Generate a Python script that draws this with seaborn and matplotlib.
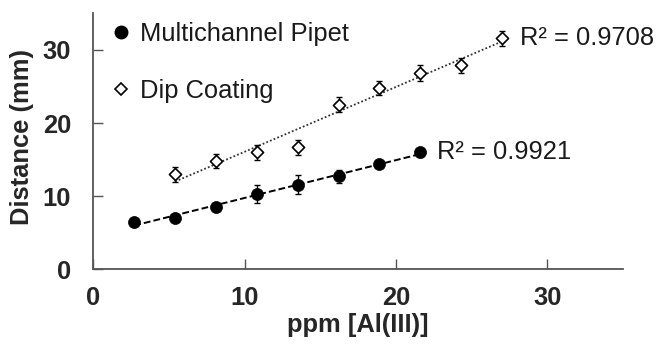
import numpy as np
import pandas as pd
import matplotlib
matplotlib.use("Agg")
import matplotlib.pyplot as plt
from matplotlib.lines import Line2D
import seaborn as sns

# Calibration data: Al(III) concentration vs. travel distance
ppm_pipet = [2.7, 5.4, 8.1, 10.8, 13.5, 16.2, 18.9, 21.6]
dist_pipet = [6.5, 7.0, 8.55, 10.3, 11.6, 12.7, 14.4, 16.0]
err_pipet = [0.3, 0.5, 0.5, 1.2, 1.25, 0.9, 0.5, 0.6]

ppm_dip = [5.4, 8.1, 10.8, 13.5, 16.2, 18.9, 21.6, 24.3, 27.0]
dist_dip = [13.0, 14.8, 16.0, 16.7, 22.5, 24.8, 26.9, 27.9, 31.6]
err_dip = [1.0, 1.0, 1.0, 1.0, 1.0, 1.0, 1.1, 1.0, 1.05]

series_names = ["Multichannel Pipet", "Dip Coating"]
r2_labels = ["R\u00b2 = 0.9921", "R\u00b2 = 0.9708"]

x_ticks = [0, 10, 20, 30]
y_ticks = [0, 10, 20, 30]

sns.set_theme(style="ticks")
plt.rcParams["font.family"] = ["Liberation Sans", "DejaVu Sans"]

fig = plt.figure(figsize=(6.6, 3.47), dpi=100)
ax = fig.add_axes([0.1414, 0.2236, 0.8026, 0.738])

pipet = pd.DataFrame({"ppm": ppm_pipet, "dist": dist_pipet})
dip = pd.DataFrame({"ppm": ppm_dip, "dist": dist_dip})

# linear trend lines over each data range
sns.regplot(data=pipet, x="ppm", y="dist", scatter=False, ci=None, truncate=True,
            ax=ax, line_kws=dict(color="black", lw=1.4, ls=(0, (3.5, 1.6))))
sns.regplot(data=dip, x="ppm", y="dist", scatter=False, ci=None, truncate=True,
            ax=ax, line_kws=dict(color="#333333", lw=1.3, ls=(0, (1, 1.2))))

# error bars
ax.errorbar(ppm_pipet, dist_pipet, yerr=err_pipet, fmt="none", ecolor="black",
            elinewidth=1.0, capsize=2.5, capthick=1.0, zorder=3)
ax.errorbar(ppm_dip, dist_dip, yerr=err_dip, fmt="none", ecolor="black",
            elinewidth=1.0, capsize=2.5, capthick=1.0, zorder=3)

# markers
sns.scatterplot(data=pipet, x="ppm", y="dist", ax=ax, marker="o", s=75,
                color="black", edgecolor="black", linewidth=0.5, zorder=4)
sns.scatterplot(data=dip, x="ppm", y="dist", ax=ax, marker="D", s=38,
                facecolor="white", edgecolor="black", linewidth=1.2, zorder=4)

# R-squared annotations next to the last point of each series
ax.text(ppm_pipet[-1] + 1.1, dist_pipet[-1], r2_labels[0], fontsize=18.4,
        ha="left", va="center", color="#1a1a1a")
ax.text(ppm_dip[-1] + 1.2, dist_dip[-1], r2_labels[1], fontsize=18.4,
        ha="left", va="center", color="#1a1a1a")

ax.set_xlim(0, 35)
ax.set_ylim(0, 35)
ax.set_xticks(x_ticks)
ax.set_yticks(y_ticks)
ax.set_xlabel("ppm [Al(III)]", fontsize=18.4, fontweight="bold", labelpad=2)
ax.set_ylabel("Distance (mm)", fontsize=18.4, fontweight="bold")
ax.yaxis.set_label_coords(-0.112, 0.518)

for lab in ax.get_xticklabels() + ax.get_yticklabels():
    lab.set_fontweight("bold")
ax.tick_params(axis="x", direction="in", length=7, width=1.0, color="#555555",
               labelsize=18.4, pad=12)
ax.tick_params(axis="y", direction="in", length=7, width=1.0, color="#555555",
               labelsize=18.4, pad=16)

sns.despine(ax=ax)
for side in ("left", "bottom"):
    ax.spines[side].set_color("#555555")
    ax.spines[side].set_linewidth(1.3)

handles = [
    Line2D([], [], ls="none", marker="o", markersize=9, color="black"),
    Line2D([], [], ls="none", marker="D", markersize=6, markerfacecolor="white",
           markeredgecolor="black", markeredgewidth=1.2),
]
leg = ax.legend(handles, series_names, loc="upper left", bbox_to_anchor=(0.014, 1.006),
                frameon=False, fontsize=18.4, handlelength=0.8, handletextpad=0.35,
                labelspacing=1.3, borderaxespad=0)
for t in leg.get_texts():
    t.set_color("#1a1a1a")

fig.savefig("out.png", dpi=100)
